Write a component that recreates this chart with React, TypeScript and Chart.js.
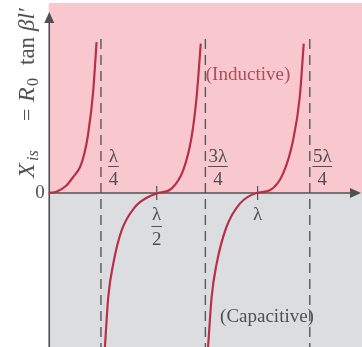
import React, { useEffect, useRef } from 'react';
import { Chart, registerables } from 'chart.js';
Chart.register(...registerables);

// x in units of wavelength λ, y in units of R0
const seg1X = [0, 0.039, 0.086, 0.117, 0.15, 0.17, 0.188, 0.212, 0.229];
const seg1Y = [0, 0.08, 0.39, 0.8, 1.3, 1.95, 2.9, 4.99, 7.54];
const seg2X = [0.269, 0.285, 0.309, 0.349, 0.413, 0.476, 0.524, 0.588, 0.644, 0.684, 0.708, 0.728];
const seg2Y = [-7.7, -5.2, -3.53, -1.87, -0.7, -0.2, 0, 0.22, 1.14, 2.8, 4.8, 7.47];
const seg3X = [0.763, 0.78, 0.804, 0.851, 0.915, 0.995, 1.059, 1.122, 1.17, 1.202, 1.221];
const seg3Y = [-7.7, -5.2, -3.53, -1.7, -0.53, 0, 0.14, 0.97, 2.64, 4.8, 7.47];

const asymptotes = [0.25, 0.75, 1.25];
const asymptoteNum = ['λ', '3λ', '5λ'];
const asymptoteDen = ['4', '4', '4'];
const zeroTicks = [0.517, 1.0];
const zeroTickNum = ['λ', 'λ'];
const zeroTickDen = ['2', ''];
const dashTop = 7.7;

const X_MIN = 0, X_MAX = 1.5, Y_MIN = -7.7, Y_MAX = 9.5;

const PINK = 'rgb(248,200,206)';
const GRAY = 'rgb(220,221,225)';
const CURVE = 'rgb(184,48,72)';
const INK = '#505050';
const SERIF = '"Liberation Serif", "DejaVu Serif", serif';

function toPts(xs: number[], ys: number[]) {
  return xs.map((x, i) => ({ x, y: ys[i] }));
}

function drawFrac(ctx: CanvasRenderingContext2D, cx: number, num: string, den: string, numY: number, barY: number, denY: number) {
  ctx.font = `19px ${SERIF}`;
  ctx.textAlign = 'center';
  ctx.textBaseline = 'middle';
  ctx.fillStyle = INK;
  ctx.fillText(num, cx, numY);
  if (den) {
    ctx.fillText(den, cx, denY);
    const w = Math.max(ctx.measureText(num).width, ctx.measureText(den).width) + 1;
    ctx.strokeStyle = INK;
    ctx.lineWidth = 1;
    ctx.beginPath();
    ctx.moveTo(cx - w / 2, barY + 0.5);
    ctx.lineTo(cx + w / 2, barY + 0.5);
    ctx.stroke();
  }
}

const decorPlugin = {
  id: 'decor',
  beforeDatasetsDraw(chart: any) {
    const { ctx, chartArea: a, scales } = chart;
    const xs = scales.x, ys = scales.y;
    const y0 = ys.getPixelForValue(0);
    ctx.save();
    ctx.fillStyle = PINK;
    ctx.fillRect(a.left, a.top, a.right - a.left, y0 - a.top);
    ctx.fillStyle = GRAY;
    ctx.fillRect(a.left, y0, a.right - a.left, a.bottom - y0);

    // dashed asymptotes
    ctx.strokeStyle = '#585858';
    ctx.lineWidth = 1.4;
    ctx.setLineDash([10, 6]);
    asymptotes.forEach((v) => {
      const px = xs.getPixelForValue(v);
      ctx.beginPath();
      ctx.moveTo(px, ys.getPixelForValue(dashTop));
      ctx.lineTo(px, a.bottom);
      ctx.stroke();
    });
    ctx.setLineDash([]);

    // axes
    ctx.strokeStyle = INK;
    ctx.fillStyle = INK;
    ctx.lineWidth = 1.6;
    const ax = a.left + 0.5;
    ctx.beginPath();
    ctx.moveTo(ax, 20);
    ctx.lineTo(ax, a.bottom);
    ctx.stroke();
    ctx.beginPath();
    ctx.moveTo(ax, 12);
    ctx.lineTo(ax - 5, 23);
    ctx.lineTo(ax + 5, 23);
    ctx.closePath();
    ctx.fill();

    ctx.beginPath();
    ctx.moveTo(a.left, y0);
    ctx.lineTo(352, y0);
    ctx.stroke();
    ctx.beginPath();
    ctx.moveTo(361, y0);
    ctx.lineTo(350, y0 - 5);
    ctx.lineTo(350, y0 + 5);
    ctx.closePath();
    ctx.fill();

    // tick marks
    ctx.lineWidth = 1.2;
    zeroTicks.forEach((v) => {
      const px = xs.getPixelForValue(v);
      ctx.beginPath();
      ctx.moveTo(px, y0 - 7);
      ctx.lineTo(px, y0 + 7);
      ctx.stroke();
    });
    ctx.restore();
  },
  afterDatasetsDraw(chart: any) {
    const { ctx, chartArea: a, scales } = chart;
    const xs = scales.x, ys = scales.y;
    const y0 = ys.getPixelForValue(0);
    ctx.save();

    asymptotes.forEach((v, i) => {
      const px = xs.getPixelForValue(v);
      drawFrac(ctx, px + 12.5, asymptoteNum[i], asymptoteDen[i], y0 - 36, y0 - 27, y0 - 13);
    });
    zeroTicks.forEach((v, i) => {
      const px = xs.getPixelForValue(v);
      drawFrac(ctx, px, zeroTickNum[i], zeroTickDen[i], y0 + 22, y0 + 33, y0 + 47);
    });

    // zero label
    ctx.font = `19px ${SERIF}`;
    ctx.fillStyle = INK;
    ctx.textAlign = 'right';
    ctx.textBaseline = 'middle';
    ctx.fillText('0', a.left - 4, y0);

    // region labels
    ctx.textAlign = 'center';
    ctx.fillStyle = 'rgb(168,78,92)';
    ctx.fillText('(Inductive)', 248, 75);
    ctx.fillStyle = INK;
    ctx.fillText('(Capacitive)', 267, 317);

    // y-axis title, rotated
    ctx.translate(34, 178);
    ctx.rotate(-Math.PI / 2);
    ctx.textAlign = 'left';
    ctx.textBaseline = 'alphabetic';
    ctx.fillStyle = INK;
    const piece = (t: string, s: number, font: string, dy: number) => {
      ctx.font = font;
      ctx.fillText(t, s, dy);
    };
    piece('X', 0, `italic 24px ${SERIF}`, 0);
    piece('is', 17, `italic 16px ${SERIF}`, 4);
    piece('=', 57, `22px ${SERIF}`, 0);
    piece('R', 76, `italic 24px ${SERIF}`, 0);
    piece('0', 92, `16px ${SERIF}`, 4);
    piece('tan', 113, `23px ${SERIF}`, 0);
    piece('βl′', 147, `italic 23px ${SERIF}`, 0);
    ctx.restore();
  },
};

export default function App() {
  const ref = useRef<HTMLCanvasElement | null>(null);
  useEffect(() => {
    document.body.style.margin = '0';
    const c = ref.current;
    if (!c) return;
    const ds = (xs: number[], ys: number[]) => ({
      data: toPts(xs, ys),
      showLine: true,
      borderColor: CURVE,
      borderWidth: 2.2,
      pointRadius: 0,
      cubicInterpolationMode: 'monotone' as const,
      fill: false,
    });
    const chart = new Chart(c, {
      type: 'scatter',
      data: { datasets: [ds(seg1X, seg1Y), ds(seg2X, seg2Y), ds(seg3X, seg3Y)] },
      options: {
        animation: false,
        responsive: false,
        maintainAspectRatio: false,
        layout: { padding: { left: 48.75, top: 3, right: 0, bottom: 0 } },
        plugins: { legend: { display: false }, tooltip: { enabled: false } },
        scales: {
          x: { type: 'linear', min: X_MIN, max: X_MAX, display: false },
          y: { type: 'linear', min: Y_MIN, max: Y_MAX, display: false },
        },
      },
      plugins: [decorPlugin],
    });
    return () => chart.destroy();
  }, []);
  return (
    <div style={{ width: 362, height: 347, background: '#fff' }}>
      <canvas ref={ref} width={362} height={347} style={{ display: 'block' }} />
    </div>
  );
}
